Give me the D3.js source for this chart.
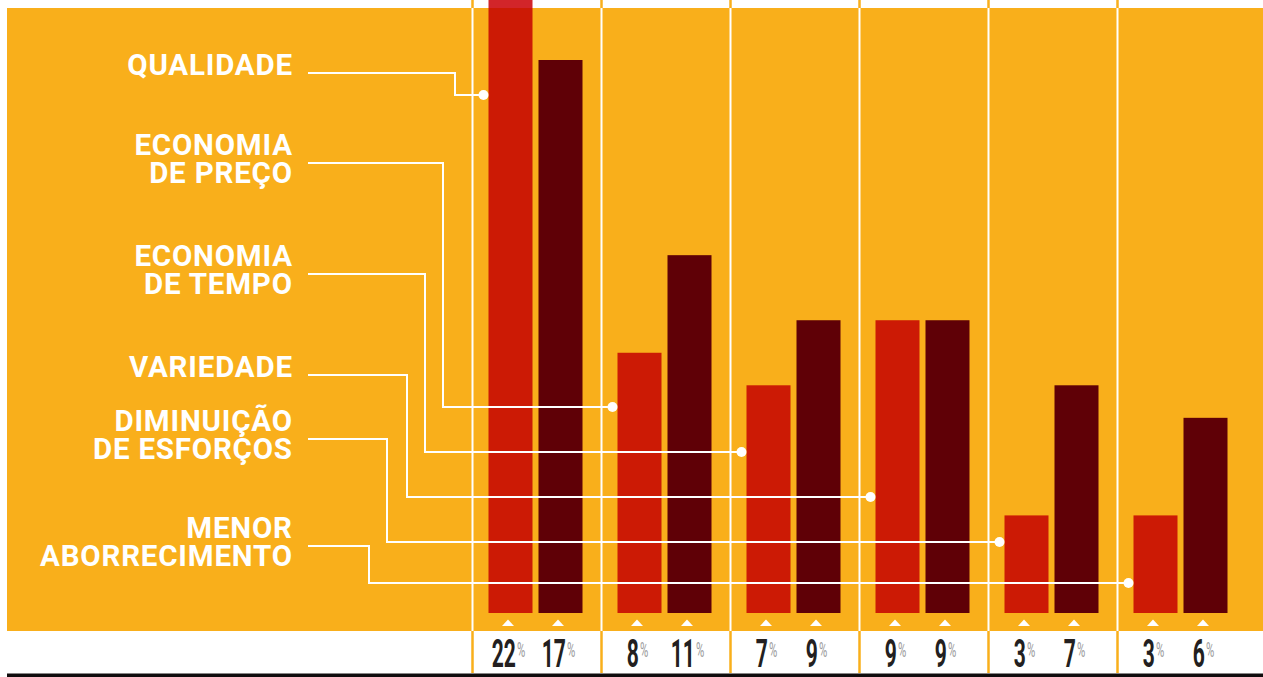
<!DOCTYPE html>
<html lang="pt">
<head>
<meta charset="utf-8">
<title>Motivos de escolha</title>
<script src="https://cdn.jsdelivr.net/npm/d3@7"></script>
<style>
  html, body { margin: 0; padding: 0; background: #ffffff; }
  svg { display: block; }
</style>
</head>
<body>
<svg id="chart" width="1263" height="677"></svg>
<script>
// Categories (one callout each) and the two percentage series per category
const categories = [
  "QUALIDADE",
  "ECONOMIA DE PREÇO",
  "ECONOMIA DE TEMPO",
  "VARIEDADE",
  "DIMINUIÇÃO DE ESFORÇOS",
  "MENOR ABORRECIMENTO"
];
const categoryLines = [
  ["QUALIDADE"],
  ["ECONOMIA", "DE PREÇO"],
  ["ECONOMIA", "DE TEMPO"],
  ["VARIEDADE"],
  ["DIMINUIÇÃO", "DE ESFORÇOS"],
  ["MENOR", "ABORRECIMENTO"]
];
const seriesRed  = [22, 8, 7, 9, 3, 3];
const seriesDark = [17, 11, 9, 9, 7, 6];
const seriesKeys = ["red", "dark"];
const valueSuffix = "%";

// Callout layout: label anchor row, elbow column and the row where the leader meets the bar
const calloutRowY   = [73, 163, 274, 375, 439, 546];
const calloutElbowX = [455, 443, 425, 407, 387, 369];
const calloutDotY   = [95, 407, 452, 497, 542, 583];

// Dimensions and palette
const W = 1263, H = 677;
const panel = { left: 7, top: 8, bottom: 631 };
const baseY = 613;
const C = {
  orange: "#F9AF1B",
  red: "#CC1A05",
  dark: "#5F0006",
  redCap: "#D2252A",
  white: "#FFFFFF",
  ink: "#231F20",
  pct: "#9B9B9B",
  rule: "#100C0D"
};

const svg = d3.select("#chart");

const x = d3.scaleBand().domain(d3.range(categories.length)).range([471, 1245]);
const sub = d3.scaleBand().domain(seriesKeys).range([0, x.bandwidth()])
  .paddingInner(0.12).paddingOuter(0.35);
const y = d3.scaleLinear().domain([0, 17]).range([baseY, 60]);
const colorOf = d3.scaleOrdinal().domain(seriesKeys).range([C.red, C.dark]);

const rows = categories.map((c, i) => ({
  i, name: c, lines: categoryLines[i],
  vals: [
    { key: "red", v: seriesRed[i] },
    { key: "dark", v: seriesDark[i] }
  ]
}));
const flat = rows.flatMap(r => r.vals.map(d => ({ ...d, i: r.i })));
const barX = d => x(d.i) + sub(d.key);
const barCx = d => barX(d) + sub.bandwidth() / 2;

// Orange panel
svg.append("rect")
  .attr("x", panel.left).attr("y", panel.top)
  .attr("width", W - panel.left).attr("height", panel.bottom - panel.top)
  .attr("fill", C.orange);

// Group separators: orange outside the panel, white inside it
const sepX = d3.range(categories.length).map(i => x(i) + 1.5);
svg.append("g").selectAll("line").data(sepX).join("line")
  .attr("x1", d => d).attr("x2", d => d)
  .attr("y1", 0).attr("y2", H - 4)
  .attr("stroke", C.orange).attr("stroke-width", 2.5);
svg.append("g").selectAll("line").data(sepX).join("line")
  .attr("x1", d => d).attr("x2", d => d)
  .attr("y1", panel.top).attr("y2", panel.bottom)
  .attr("stroke", C.white).attr("stroke-width", 2);

// Bars, clipped to the panel
svg.append("clipPath").attr("id", "panelClip")
  .append("rect").attr("x", 0).attr("y", panel.top).attr("width", W).attr("height", H);
svg.append("g").attr("clip-path", "url(#panelClip)")
  .selectAll("rect").data(flat).join("rect")
  .attr("x", barX)
  .attr("y", d => y(d.v))
  .attr("width", sub.bandwidth())
  .attr("height", d => baseY - y(d.v))
  .attr("fill", d => colorOf(d.key));

// Bars taller than the panel continue into the top strip in a lighter tint
svg.append("g").selectAll("rect")
  .data(flat.filter(d => y(d.v) < panel.top)).join("rect")
  .attr("x", barX)
  .attr("y", d => Math.max(0, y(d.v)))
  .attr("width", sub.bandwidth())
  .attr("height", d => panel.top - Math.max(0, y(d.v)))
  .attr("fill", C.redCap);

// Leader lines from each label to its category's first bar
const dotR = 5;
const leaderStartX = 308;
const leader = d3.line();
svg.append("g").selectAll("path").data(rows).join("path")
  .attr("d", r => leader([
    [leaderStartX, calloutRowY[r.i]],
    [calloutElbowX[r.i], calloutRowY[r.i]],
    [calloutElbowX[r.i], calloutDotY[r.i]],
    [x(r.i) + sub("red") - dotR, calloutDotY[r.i]]
  ]))
  .attr("fill", "none")
  .attr("stroke", C.white)
  .attr("stroke-width", 2);
svg.append("g").selectAll("circle").data(rows).join("circle")
  .attr("cx", r => x(r.i) + sub("red") - dotR)
  .attr("cy", r => calloutDotY[r.i])
  .attr("r", dotR)
  .attr("fill", C.white);

// Category labels, right aligned
const labelRight = 292.8;
const lineGap = 28;
const labels = svg.append("g")
  .attr("font-family", "Roboto, 'Liberation Sans', sans-serif")
  .attr("font-weight", 700)
  .attr("font-size", 29.5)
  .attr("letter-spacing", 0.8)
  .attr("fill", C.white)
  .attr("text-anchor", "end");
labels.selectAll("text").data(rows).join("text")
  .attr("x", labelRight)
  .attr("y", r => r.lines.length === 1 ? calloutRowY[r.i] + 2 : calloutRowY[r.i] - 8)
  .selectAll("tspan").data(r => r.lines).join("tspan")
  .attr("x", labelRight)
  .attr("dy", (d, k) => k === 0 ? 0 : lineGap)
  .text(d => d);

// Bottom strip: markers, values, rule
svg.append("g").selectAll("path").data(flat).join("path")
  .attr("d", d => {
    const cx = barCx(d) - 2.5;
    return `M${cx - 6},626 L${cx},619.5 L${cx + 6},626 Z`;
  })
  .attr("fill", C.white);

const vals = svg.append("g")
  .attr("font-family", "Roboto, 'Liberation Sans', sans-serif")
  .attr("text-anchor", "middle");
const vt = vals.selectAll("text").data(flat).join("text")
  .attr("transform", d => `translate(${barCx(d) - 2},667) scale(0.54,1)`);
vt.append("tspan")
  .attr("font-size", 39).attr("font-weight", 700).attr("fill", C.ink)
  .text(d => d.v);
vt.append("tspan")
  .attr("font-size", 21).attr("font-weight", 400).attr("fill", C.pct)
  .attr("dx", 2).attr("dy", -10)
  .text(valueSuffix);

svg.append("rect")
  .attr("x", panel.left).attr("y", 673.5)
  .attr("width", W - panel.left).attr("height", H - 673.5)
  .attr("fill", C.rule);
</script>
</body>
</html>
